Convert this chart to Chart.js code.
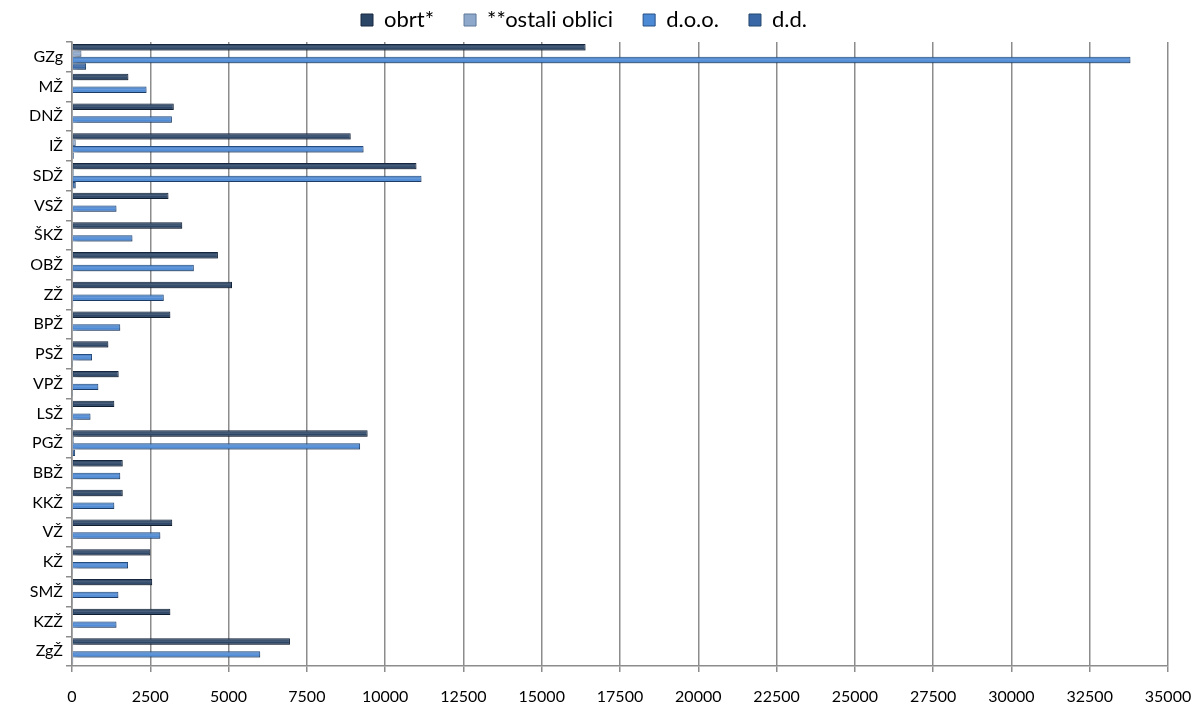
<!DOCTYPE html>
<html>
<head>
<meta charset="utf-8">
<script src="https://cdn.jsdelivr.net/npm/chart.js@4/dist/chart.umd.min.js"></script>
<style>
  html, body { margin: 0; padding: 0; background: #fff; }
  #wrap { width: 1197px; height: 711px; }
</style>
</head>
<body>
<div id="wrap"><canvas id="chart"></canvas></div>
<script>
const regions = ['GZg', 'MŽ', 'DNŽ', 'IŽ', 'SDŽ', 'VSŽ', 'ŠKŽ', 'OBŽ', 'ZŽ', 'BPŽ', 'PSŽ',
  'VPŽ', 'LSŽ', 'PGŽ', 'BBŽ', 'KKŽ', 'VŽ', 'KŽ', 'SMŽ', 'KZŽ', 'ZgŽ']

const obrt = [16400, 1800, 3250, 8900, 11000, 3080, 3520, 4660, 5110, 3140, 1160,
  1490, 1350, 9440, 1620, 1620, 3200, 2500, 2560, 3140, 6960]
const ostali = [300, 20, 30, 120, 60, 20, 20, 30, 30, 20, 10,
  10, 10, 60, 20, 20, 30, 20, 20, 20, 40]
const doo = [33800, 2380, 3190, 9310, 11160, 1420, 1930, 3890, 2930, 1540, 640,
  840, 590, 9200, 1540, 1350, 2820, 1790, 1480, 1420, 6010]
const dd = [450, 15, 40, 60, 120, 15, 20, 40, 40, 25, 10,
  10, 10, 100, 15, 20, 30, 15, 15, 20, 40]

const xTicks = [0, 2500, 5000, 7500, 10000, 12500, 15000, 17500, 20000,
  22500, 25000, 27500, 30000, 32500, 35000]

const FONT = 'Lato, "Open Sans", sans-serif'

function series(label, data, fill, edge) {
  return {
    label: label,
    data: data,
    backgroundColor: fill,
    borderColor: edge,
    borderWidth: 1,
    borderSkipped: 'start',
    categoryPercentage: 0.86,
    barPercentage: 1.0
  }
}

// drop shadow behind the bars, like the old Excel look
const barShadow = {
  id: 'barShadow',
  beforeDatasetsDraw(chart) {
    const ctx = chart.ctx
    ctx.save()
    ctx.shadowColor = 'rgba(0,0,0,0.4)'
    ctx.shadowOffsetX = 3
    ctx.shadowOffsetY = 3
    ctx.shadowBlur = 5
  },
  afterDatasetsDraw(chart) {
    const ctx = chart.ctx
    ctx.restore()
    // soft shine across each bar
    chart.data.datasets.forEach((ds, i) => {
      const meta = chart.getDatasetMeta(i)
      meta.data.forEach(bar => {
        const h = bar.height
        const top = bar.y - h / 2
        const left = Math.min(bar.base, bar.x)
        const w = Math.abs(bar.x - bar.base)
        if (w < 2) return
        const g = ctx.createLinearGradient(0, top, 0, top + h)
        g.addColorStop(0, 'rgba(0,0,0,0.12)')
        g.addColorStop(0.45, 'rgba(255,255,255,0.14)')
        g.addColorStop(0.65, 'rgba(255,255,255,0.0)')
        g.addColorStop(1, 'rgba(0,0,0,0.25)')
        ctx.fillStyle = g
        ctx.fillRect(left + 1, top + 1, w - 2, h - 2)
      })
    })
  }
}

// wider gaps between legend items without a tall legend box
const legendFit = {
  id: 'legendFit',
  beforeLayout(chart) {
    const lg = chart.legend
    if (lg && !lg._fitPatched) {
      const fit = lg.fit
      lg.fit = function () {
        fit.call(this)
        this.height = 63
      }
      lg._fitPatched = true
    }
  }
}

new Chart(document.getElementById('chart'), {
  type: 'bar',
  data: {
    labels: regions,
    datasets: [
      series('obrt*', obrt, '#2b4566', '#172840'),
      series('**ostali oblici', ostali, '#8ea8cc', '#5f789a'),
      series('d.o.o.', doo, '#4d8ad6', '#264f84'),
      series('d.d.', dd, '#3a68a6', '#23466f')
    ]
  },
  options: {
    indexAxis: 'y',
    responsive: true,
    maintainAspectRatio: false,
    animation: false,
    layout: { padding: { top: -21, right: 29, left: 0, bottom: 0 } },
    plugins: {
      legend: {
        position: 'top',
        labels: {
          boxWidth: 12,
          boxHeight: 12,
          padding: 30,
          color: '#000',
          font: { family: FONT, size: 22 }
        }
      },
      tooltip: { enabled: false }
    },
    scales: {
      x: {
        min: 0,
        max: 35000,
        afterBuildTicks(scale) {
          scale.ticks = xTicks.map(v => ({ value: v }))
        },
        afterFit(scale) {
          scale.height = 45
          scale.paddingLeft = 0
          scale.paddingRight = 0
        },
        grid: {
          color: '#8c8c8c',
          lineWidth: 1.5,
          tickLength: 6
        },
        border: { color: '#8c8c8c', width: 1.5 },
        ticks: {
          color: '#000',
          padding: 15,
          maxRotation: 0,
          font: { family: FONT, size: 16 },
          callback: v => String(v)
        }
      },
      y: {
        afterFit(scale) { scale.width = 72 },
        grid: {
          drawOnChartArea: false,
          color: '#8c8c8c',
          lineWidth: 1.5,
          tickLength: 6
        },
        border: { color: '#8c8c8c', width: 1.5 },
        ticks: {
          color: '#000',
          padding: 3,
          font: { family: FONT, size: 16 }
        }
      }
    }
  },
  plugins: [barShadow, legendFit]
})
</script>
</body>
</html>
